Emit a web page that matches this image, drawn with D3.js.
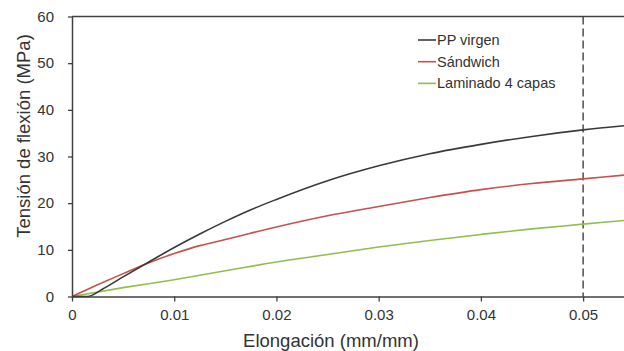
<!DOCTYPE html>
<html>
<head>
<meta charset="utf-8">
<script src="https://cdn.jsdelivr.net/npm/d3@7"></script>
<style>
  body { margin: 0; background: #fff; }
  svg { font-family: "Liberation Sans", Arial, sans-serif; }
  .tick text { fill: #333; font-size: 15px; }
</style>
</head>
<body>
<div id="chart"></div>
<script>
// datos
var seriesNames = ["PP virgen", "Sándwich", "Laminado 4 capas"];
var seriesColors = ["#3a3a3a", "#c8504f", "#92bf4c"];

var ppX = [0, 0.0015, 0.003, 0.005, 0.0076, 0.01, 0.0125, 0.015, 0.0175, 0.02, 0.025, 0.03, 0.035, 0.04, 0.045, 0.05, 0.054];
var ppY = [0, 0, 1.6, 4.2, 7.5, 10.5, 13.4, 16.1, 18.6, 20.8, 24.8, 28.0, 30.6, 32.6, 34.3, 35.7, 36.6];

var sandX = [0, 0.0025, 0.005, 0.0076, 0.01, 0.0125, 0.015, 0.02, 0.025, 0.03, 0.035, 0.04, 0.045, 0.05, 0.054];
var sandY = [0, 2.5, 4.9, 7.3, 9.2, 10.9, 12.2, 14.9, 17.3, 19.3, 21.2, 22.9, 24.2, 25.2, 26.0];

var lamX = [0, 0.005, 0.01, 0.015, 0.02, 0.025, 0.03, 0.035, 0.04, 0.045, 0.05, 0.054];
var lamY = [0, 1.9, 3.6, 5.5, 7.4, 9.0, 10.6, 12.0, 13.3, 14.5, 15.5, 16.3];

var xTicks = [0, 0.01, 0.02, 0.03, 0.04, 0.05];
var yTicks = [0, 10, 20, 30, 40, 50, 60];
var refLineX = 0.05;

var width = 624, height = 351;
var margin = {top: 16.5, right: 0, bottom: 54.5, left: 72};

var svg = d3.select("#chart").append("svg")
    .attr("width", width)
    .attr("height", height);

var x = d3.scaleLinear().domain([0, 0.054]).range([margin.left, width - margin.right]);
var y = d3.scaleLinear().domain([0, 60]).range([height - margin.bottom, margin.top]);

// borde superior
svg.append("line")
    .attr("x1", margin.left).attr("x2", width)
    .attr("y1", y(60)).attr("y2", y(60))
    .attr("stroke", "#404040").attr("stroke-width", 1.5);

// linea vertical discontinua
svg.append("line")
    .attr("x1", x(refLineX)).attr("x2", x(refLineX))
    .attr("y1", y(60)).attr("y2", y(0))
    .attr("stroke", "#333").attr("stroke-width", 1.3)
    .attr("stroke-dasharray", "8,4");

var line = d3.line()
    .x(function(d) { return x(d[0]); })
    .y(function(d) { return y(d[1]); })
    .curve(d3.curveMonotoneX);

var allSeries = [
    d3.zip(ppX, ppY),
    d3.zip(sandX, sandY),
    d3.zip(lamX, lamY)
];

// verde primero, negro encima
[2, 1, 0].forEach(function(i) {
    svg.append("path")
        .attr("d", line(allSeries[i]))
        .attr("fill", "none")
        .attr("stroke", seriesColors[i])
        .attr("stroke-width", 1.6);
});

var xAxis = svg.append("g")
    .attr("transform", "translate(0," + y(0) + ")")
    .call(d3.axisBottom(x).tickValues(xTicks).tickSize(5).tickSizeOuter(0)
        .tickFormat(function(d) { return d === 0 ? "0" : d.toFixed(2); }));
xAxis.select(".domain").attr("stroke", "#404040").attr("stroke-width", 1.5);
xAxis.selectAll(".tick line").attr("stroke", "#404040").attr("stroke-width", 1.3);
xAxis.selectAll(".tick text").attr("dy", "1.05em");

var yAxis = svg.append("g")
    .attr("transform", "translate(" + margin.left + ",0)")
    .call(d3.axisLeft(y).tickValues(yTicks).tickSize(4).tickSizeOuter(0));
yAxis.select(".domain").attr("stroke", "#404040").attr("stroke-width", 1.5);
yAxis.selectAll(".tick line").attr("stroke", "#404040").attr("stroke-width", 1.3);
yAxis.selectAll(".tick text").attr("x", -18);

svg.append("text")
    .attr("x", 331)
    .attr("y", 346.5)
    .attr("text-anchor", "middle")
    .attr("font-size", 18.5)
    .attr("fill", "#333")
    .text("Elongación (mm/mm)");

svg.append("text")
    .attr("transform", "translate(30,136) rotate(-90)")
    .attr("text-anchor", "middle")
    .attr("font-size", 18.5)
    .attr("fill", "#333")
    .text("Tensión de flexión (MPa)");

// leyenda
var legend = svg.append("g");
seriesNames.forEach(function(name, i) {
    var ly = 40 + i * 21.7;
    legend.append("line")
        .attr("x1", 418).attr("x2", 436)
        .attr("y1", ly).attr("y2", ly)
        .attr("stroke", seriesColors[i]).attr("stroke-width", 1.6);
    legend.append("text")
        .attr("x", 437)
        .attr("y", ly + 5)
        .attr("font-size", 14.5)
        .attr("fill", "#333")
        .text(name);
});
</script>
</body>
</html>
